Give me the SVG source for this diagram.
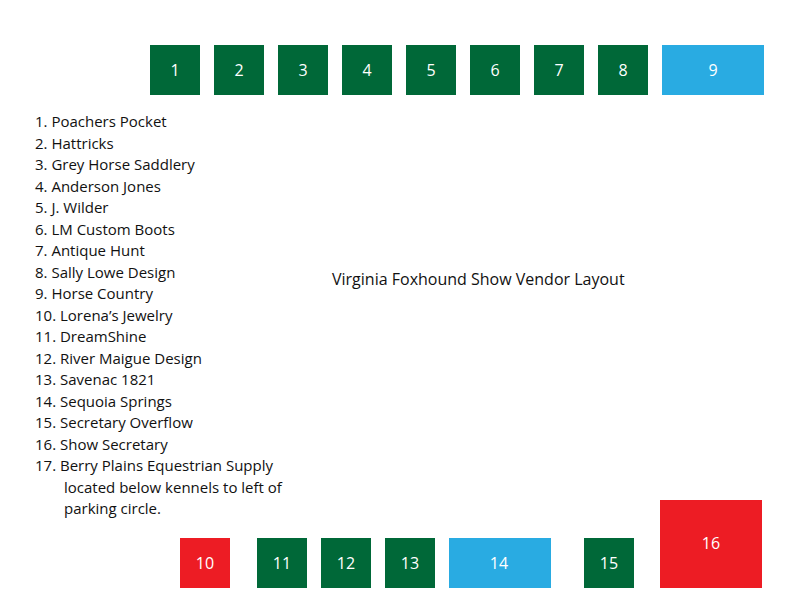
<svg xmlns="http://www.w3.org/2000/svg" width="792" height="612" viewBox="0 0 792 612">
<style>
.g{fill:#006838}.b{fill:#29abe2}.r{fill:#ed1c24}
.n{fill:#fff;font-family:"Open Sans","Liberation Sans",sans-serif;font-size:16px;text-anchor:middle}
.t{fill:#111;font-family:"Open Sans","Liberation Sans",sans-serif;font-size:15px;white-space:pre}
</style>
<rect width="792" height="612" fill="#fff"/>
<g id="b1"><rect class="g" x="150" y="45" width="50" height="50"/><text class="n" x="175" y="76">1</text></g>
<g id="b2"><rect class="g" x="214" y="45" width="50" height="50"/><text class="n" x="239" y="76">2</text></g>
<g id="b3"><rect class="g" x="278" y="45" width="50" height="50"/><text class="n" x="303" y="76">3</text></g>
<g id="b4"><rect class="g" x="342" y="45" width="50" height="50"/><text class="n" x="367" y="76">4</text></g>
<g id="b5"><rect class="g" x="406" y="45" width="50" height="50"/><text class="n" x="431" y="76">5</text></g>
<g id="b6"><rect class="g" x="470" y="45" width="50" height="50"/><text class="n" x="495" y="76">6</text></g>
<g id="b7"><rect class="g" x="534" y="45" width="50" height="50"/><text class="n" x="559" y="76">7</text></g>
<g id="b8"><rect class="g" x="598" y="45" width="50" height="50"/><text class="n" x="623" y="76">8</text></g>
<g id="b9"><rect class="b" x="662" y="45" width="102" height="50"/><text class="n" x="713" y="76">9</text></g>
<g id="b10"><rect class="r" x="180" y="538" width="50" height="50"/><text class="n" x="205" y="569">10</text></g>
<g id="b11"><rect class="g" x="257" y="538" width="50" height="50"/><text class="n" x="282" y="569">11</text></g>
<g id="b12"><rect class="g" x="321" y="538" width="50" height="50"/><text class="n" x="346" y="569">12</text></g>
<g id="b13"><rect class="g" x="385" y="538" width="50" height="50"/><text class="n" x="410" y="569">13</text></g>
<g id="b14"><rect class="b" x="449" y="538" width="102" height="50"/><text class="n" x="499" y="569">14</text></g>
<g id="b15"><rect class="g" x="584" y="538" width="50" height="50"/><text class="n" x="609" y="569">15</text></g>
<g id="b16"><rect class="r" x="660" y="500" width="102" height="88"/><text class="n" x="711" y="549">16</text></g>
<g id="connectors"></g>
<g id="legend" class="t">
<text x="35" y="127">1. Poachers  Pocket</text>
<text x="35" y="148.5">2. Hattricks</text>
<text x="35" y="170">3. Grey Horse Saddlery</text>
<text x="35" y="191.5">4. Anderson Jones</text>
<text x="35" y="213">5. J. Wilder</text>
<text x="35" y="234.5">6. LM Custom Boots</text>
<text x="35" y="256">7. Antique Hunt</text>
<text x="35" y="277.5">8. Sally Lowe Design</text>
<text x="35" y="299">9.  Horse Country</text>
<text x="35" y="320.5">10. Lorena’s Jewelry</text>
<text x="35" y="342">11. DreamShine</text>
<text x="35" y="363.5">12. River Maigue Design</text>
<text x="35" y="385">13. Savenac 1821</text>
<text x="35" y="406.5">14.  Sequoia Springs</text>
<text x="35" y="428">15.  Secretary Overflow</text>
<text x="35" y="449.5">16.  Show Secretary</text>
<text x="35" y="471">17.  Berry Plains Equestrian Supply</text>
<text x="64" y="492.5">located below kennels to left of</text>
<text x="64" y="514">parking circle.</text>
</g>
<text class="t" x="332" y="285" style="font-size:16px">Virginia Foxhound Show Vendor Layout</text>
</svg>
